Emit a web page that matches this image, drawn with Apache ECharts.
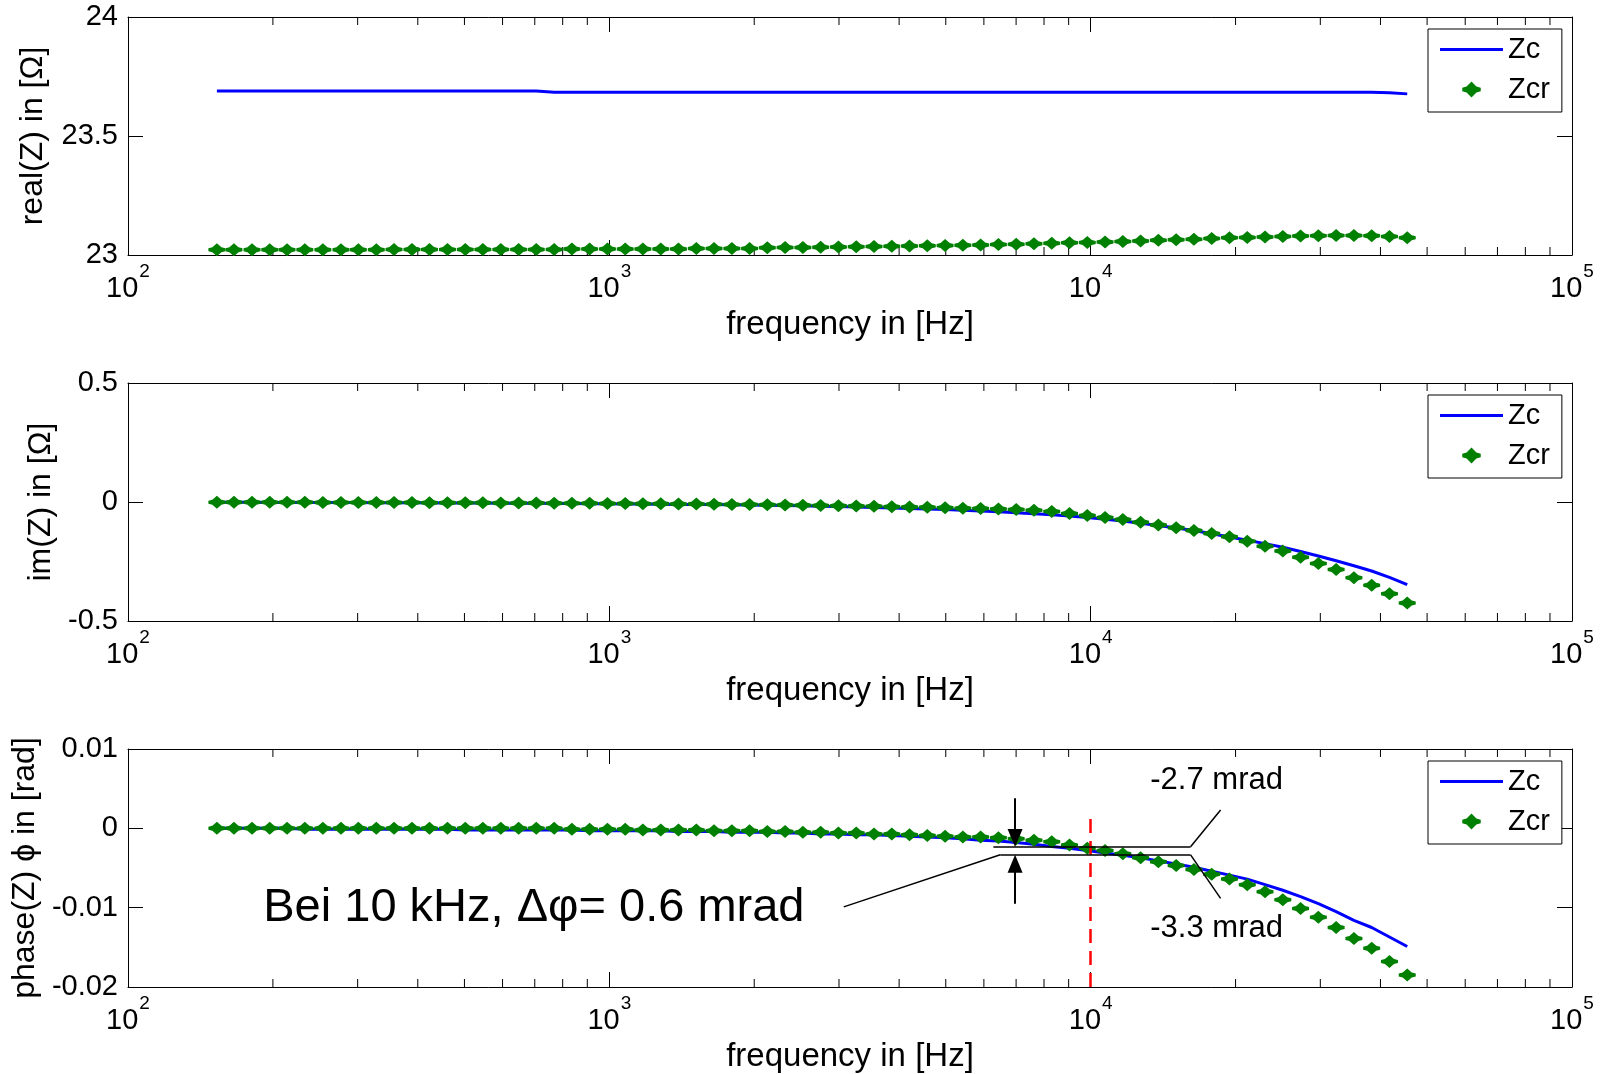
<!DOCTYPE html>
<html>
<head>
<meta charset="utf-8">
<script src="https://cdn.jsdelivr.net/npm/echarts@6/dist/echarts.min.js"></script>
<style>
html,body{margin:0;padding:0;background:#fff;}
#chart{width:1603px;height:1074px;}
</style>
</head>
<body>
<div id="chart"></div>
<script>
// ---------------- data ----------------
const freq = [153,166,181,197,214,233,254,277,301,328,
  357,389,423,461,502,546,595,648,705,768,
  836,910,991,1079,1174,1279,1392,1516,1650,1797,
  1956,2129,2318,2524,2748,2992,3258,3547,3862,4204,
  4577,4984,5426,5907,6432,7003,7624,8301,9037,9839,
  10713,11663,12698,13825,15052,16388,17843,19426,21151,23028,
  25071,27296,29719,32356,35228,38355,41759,45465];

const realZc = [23.689,23.689,23.689,23.689,23.689,23.689,23.689,23.689,23.689,23.689,
  23.689,23.689,23.689,23.689,23.689,23.689,23.689,23.689,23.689,23.684,
  23.684,23.684,23.684,23.684,23.684,23.684,23.684,23.684,23.684,23.684,
  23.684,23.684,23.684,23.684,23.684,23.684,23.684,23.684,23.684,23.684,
  23.684,23.684,23.684,23.684,23.684,23.684,23.684,23.684,23.684,23.684,
  23.684,23.684,23.684,23.684,23.684,23.684,23.684,23.684,23.684,23.684,
  23.684,23.684,23.684,23.684,23.684,23.684,23.682,23.677];

const realZcr = [23.022,23.022,23.022,23.022,23.022,23.022,23.022,23.022,23.022,23.022,
  23.023,23.023,23.023,23.023,23.023,23.023,23.023,23.023,23.023,23.023,
  23.025,23.025,23.025,23.025,23.025,23.025,23.025,23.027,23.027,23.027,
  23.027,23.030,23.031,23.032,23.033,23.034,23.035,23.036,23.037,23.038,
  23.039,23.040,23.041,23.042,23.044,23.045,23.047,23.049,23.051,23.053,
  23.055,23.057,23.059,23.062,23.064,23.066,23.069,23.072,23.074,23.076,
  23.078,23.080,23.081,23.082,23.082,23.081,23.078,23.073];

const imZc = [-0.001,-0.001,-0.001,-0.002,-0.002,-0.002,-0.002,-0.002,-0.002,-0.003,
  -0.003,-0.003,-0.003,-0.004,-0.004,-0.004,-0.005,-0.005,-0.005,-0.006,
  -0.006,-0.007,-0.007,-0.008,-0.008,-0.009,-0.010,-0.010,-0.011,-0.012,
  -0.013,-0.014,-0.015,-0.016,-0.018,-0.019,-0.021,-0.023,-0.025,-0.027,
  -0.029,-0.032,-0.035,-0.038,-0.041,-0.045,-0.049,-0.054,-0.059,-0.065,
  -0.072,-0.080,-0.089,-0.099,-0.109,-0.120,-0.133,-0.147,-0.161,-0.175,
  -0.190,-0.208,-0.227,-0.247,-0.268,-0.290,-0.317,-0.347];

const imZcr = [-0.001,-0.001,-0.001,-0.001,-0.001,-0.001,-0.002,-0.002,-0.002,-0.002,
  -0.002,-0.002,-0.003,-0.003,-0.003,-0.003,-0.004,-0.004,-0.004,-0.005,
  -0.005,-0.005,-0.006,-0.006,-0.007,-0.007,-0.008,-0.008,-0.009,-0.010,
  -0.011,-0.012,-0.013,-0.014,-0.015,-0.016,-0.017,-0.018,-0.020,-0.021,
  -0.022,-0.024,-0.026,-0.027,-0.029,-0.031,-0.035,-0.040,-0.048,-0.057,
  -0.065,-0.074,-0.085,-0.097,-0.108,-0.120,-0.132,-0.146,-0.165,-0.186,
  -0.206,-0.232,-0.258,-0.284,-0.318,-0.350,-0.386,-0.424];

const phZc = [0,0,0,0,0,-0.0001,-0.0001,-0.0001,-0.0001,-0.0001,
  -0.0001,-0.0001,-0.0001,-0.0001,-0.0002,-0.0002,-0.0002,-0.0002,-0.0002,-0.0002,
  -0.0002,-0.0003,-0.0003,-0.0003,-0.0003,-0.0003,-0.0004,-0.0004,-0.0004,-0.0005,
  -0.0005,-0.0005,-0.0006,-0.0006,-0.0007,-0.0007,-0.0008,-0.0008,-0.0009,-0.0010,
  -0.0011,-0.0012,-0.0013,-0.0015,-0.0016,-0.0018,-0.0020,-0.0023,-0.0025,-0.0028,
  -0.0031,-0.0034,-0.0037,-0.0041,-0.0045,-0.0049,-0.0054,-0.0059,-0.0064,-0.0071,
  -0.0078,-0.0086,-0.0095,-0.0105,-0.0116,-0.0125,-0.0137,-0.0149];

const phZcr = [0,0,0,0,0,0,0,0,0,0,
  0,0,0,0,0,0,0,0,0,0,
  -0.0001,-0.0001,-0.0001,-0.0001,-0.0002,-0.0002,-0.0002,-0.0002,-0.0003,-0.0003,
  -0.0003,-0.0004,-0.0004,-0.0005,-0.0005,-0.0006,-0.0006,-0.0007,-0.0007,-0.0008,
  -0.0009,-0.0010,-0.0011,-0.0011,-0.0012,-0.0013,-0.0015,-0.0017,-0.0021,-0.0025,
  -0.0028,-0.0032,-0.0037,-0.0042,-0.0047,-0.0052,-0.0058,-0.0064,-0.0071,-0.0080,
  -0.0090,-0.0101,-0.0112,-0.0125,-0.0139,-0.0151,-0.0168,-0.0185];

const minorTicks = [200,300,400,500,600,700,800,900,
  2000,3000,4000,5000,6000,7000,8000,9000,
  20000,30000,40000,50000,60000,70000,80000,90000];

const yLabels = ['real(Z) in [\u03A9]', 'im(Z) in [\u03A9]', 'phase(Z) \u03D5 in [rad]'];
const xLabel = 'frequency in [Hz]';
const yMin = [23, -0.5, -0.02];
const yMax = [24, 0.5, 0.01];
const yStep = [0.5, 0.5, 0.01];
const legendNames = ['Zc', 'Zcr'];

// annotation (phase panel), in data coordinates
const redLine = [[10000, -0.02], [10000, 0.002]];
const levelHi = -0.00233, levelLo = -0.00334;
const arrowX = 6966;
const arrowHalf = 0.00112; // half an arrowhead, in rad
const annoText = [
  {name: 'Bei 10 kHz, \u0394\u03C6= 0.6 mrad', coord: [191, -0.0101], size: 47},
  {name: '-2.7 mrad', coord: [13300, 0.0060], size: 31},
  {name: '-3.3 mrad', coord: [13300, -0.01265], size: 31}
];

// ---------------- layout ----------------
const FONT = 'Liberation Sans, Arial, Helvetica, sans-serif';
const tops = [17, 383, 749];
const gridH = 238;
const nameGaps = [79, 70, 86];
const markerPath = 'path://M0,-6.5 L4,-2.5 L7.5,-1.5 L7.5,1.5 L4,2.5 L0,6.5 L-4,2.5 L-7.5,1.5 L-7.5,-1.5 L-4,-2.5 Z';

const grids = [], xAxes = [], yAxes = [], series = [], legends = [];

for (let g = 0; g < 3; g++) {
  grids.push({left: 128, right: 31, top: tops[g], height: gridH, containLabel: false});
  const axisCommon = {
    type: 'log', logBase: 10, min: 100, max: 100000, splitNumber: 3, gridIndex: g,
    axisLine: {show: true, onZero: false, lineStyle: {color: '#000', width: 1}},
    axisTick: {show: true, inside: true, length: 15, lineStyle: {color: '#000', width: 1}},
    splitLine: {show: false}, minorTick: {show: false}, minorSplitLine: {show: false}
  };
  xAxes.push(Object.assign({}, axisCommon, {
    position: 'bottom',
    name: xLabel, nameLocation: 'middle', nameGap: 53,
    nameTextStyle: {fontSize: 33, fontFamily: FONT, color: '#000'},
    axisLabel: {
      margin: 7, color: '#000',
      formatter: v => '{b|10}{s|' + Math.round(Math.log10(v)) + '}',
      rich: {
        b: {fontSize: 29, fontFamily: FONT, color: '#000', lineHeight: 41, verticalAlign: 'bottom'},
        s: {fontSize: 19, fontFamily: FONT, color: '#000', verticalAlign: 'top', padding: [0, 0, 0, 1]}
      }
    }
  }));
  xAxes.push(Object.assign({}, axisCommon, {position: 'top', axisLabel: {show: false}}));

  const yCommon = {
    type: 'value', min: yMin[g], max: yMax[g], interval: yStep[g], gridIndex: g,
    axisLine: {show: true, onZero: false, lineStyle: {color: '#000', width: 1}},
    axisTick: {show: true, inside: true, length: 15, lineStyle: {color: '#000', width: 1}},
    splitLine: {show: false}
  };
  yAxes.push(Object.assign({}, yCommon, {
    position: 'left',
    name: yLabels[g], nameLocation: 'middle', nameGap: nameGaps[g],
    nameTextStyle: {fontSize: 32, fontFamily: FONT, color: '#000'},
    axisLabel: {fontSize: 29, fontFamily: FONT, color: '#000', margin: 10}
  }));
  yAxes.push(Object.assign({}, yCommon, {position: 'right', axisLabel: {show: false}}));

  legends.push({
    orient: 'vertical', left: 1428, top: tops[g] + 12,
    data: [{name: 'Zc', icon: 'path://M0,0 L63,0 L63,3 L0,3 Z'}, {name: 'Zcr'}],
    itemWidth: 63, itemHeight: 16, itemGap: 11,
    padding: [6, 12, 8, 12], backgroundColor: '#fff', borderColor: '#000', borderWidth: 1,
    borderRadius: 0, selectedMode: false,
    textStyle: {fontSize: 29, fontFamily: FONT, color: '#000'}
  });
}

const zcSets = [realZc, imZc, phZc];
const zcrSets = [realZcr, imZcr, phZcr];

for (let g = 0; g < 3; g++) {
  const lo = yMin[g], hi = yMax[g];
  series.push({
    type: 'custom', name: 'minor' + g, xAxisIndex: 2 * g, yAxisIndex: 2 * g, silent: true,
    data: minorTicks.map(f => [f, lo]),
    renderItem: function (params, api) {
      const f = api.value(0);
      const pb = api.coord([f, lo]);
      const pt = api.coord([f, hi]);
      return {type: 'group', children: [
        {type: 'line', shape: {x1: pb[0], y1: pb[1], x2: pb[0], y2: pb[1] - 8}, style: {stroke: '#000', lineWidth: 1}},
        {type: 'line', shape: {x1: pt[0], y1: pt[1], x2: pt[0], y2: pt[1] + 8}, style: {stroke: '#000', lineWidth: 1}}
      ]};
    }
  });
  const zcSeries = {
    type: 'line', name: 'Zc', xAxisIndex: 2 * g, yAxisIndex: 2 * g,
    data: freq.map((f, i) => [f, zcSets[g][i]]),
    symbol: 'none', showSymbol: false, smooth: false,
    lineStyle: {color: '#0000ff', width: 3}, itemStyle: {color: '#0000ff'},
    z: 3
  };
  if (g === 2) {
    zcSeries.markLine = {
      silent: true, animation: false, symbol: ['none', 'none'],
      label: {show: false},
      lineStyle: {color: '#000', width: 1.5, type: 'solid'},
      emphasis: {disabled: true},
      data: [
        [{coord: redLine[0], lineStyle: {color: '#ff0000', width: 2.5, type: [14, 8]}}, {coord: redLine[1]}],
        [{coord: [6279, levelHi]}, {coord: [16128, levelHi]}],
        [{coord: [16128, levelHi]}, {coord: [18618, 0.0023]}],
        [{coord: [3069, -0.0099]}, {coord: [6490, levelLo]}],
        [{coord: [6490, levelLo]}, {coord: [16128, levelLo]}],
        [{coord: [16128, levelLo]}, {coord: [18618, -0.00883]}],
        [{coord: [arrowX, 0.0038], lineStyle: {width: 2}}, {coord: [arrowX, levelHi + arrowHalf]}],
        [{coord: [arrowX, -0.0095], lineStyle: {width: 2}}, {coord: [arrowX, levelLo - arrowHalf]}]
      ]
    };
    const textPts = annoText.map(t => ({
      name: t.name, coord: t.coord, symbolSize: 0,
      label: {show: true, position: 'right', distance: 0, formatter: '{b}', color: '#000', fontSize: t.size, fontFamily: FONT}
    }));
    const arrowPts = [
      {name: 'arrowDown', coord: [arrowX, levelHi + arrowHalf], symbol: 'triangle', symbolSize: [15, 18], symbolRotate: 180,
       itemStyle: {color: '#000'}, label: {show: false}},
      {name: 'arrowUp', coord: [arrowX, levelLo - arrowHalf], symbol: 'triangle', symbolSize: [15, 18], symbolRotate: 0,
       itemStyle: {color: '#000'}, label: {show: false}}
    ];
    zcSeries.markPoint = {
      silent: true, animation: false, symbol: 'circle', symbolSize: 0,
      itemStyle: {color: 'rgba(0,0,0,0)'},
      data: textPts.concat(arrowPts)
    };
  }
  series.push(zcSeries);
  series.push({
    type: 'scatter', name: 'Zcr', xAxisIndex: 2 * g, yAxisIndex: 2 * g,
    data: freq.map((f, i) => [f, zcrSets[g][i]]),
    symbol: markerPath, symbolSize: [17, 15], symbolKeepAspect: true,
    itemStyle: {color: '#008000', opacity: 1},
    z: 4
  });
}

const chart = echarts.init(document.getElementById('chart'), null, {renderer: 'canvas'});
chart.setOption({
  animation: false,
  backgroundColor: '#fff',
  textStyle: {fontFamily: FONT},
  grid: grids, xAxis: xAxes, yAxis: yAxes, legend: legends, series: series
});
</script>
</body>
</html>
